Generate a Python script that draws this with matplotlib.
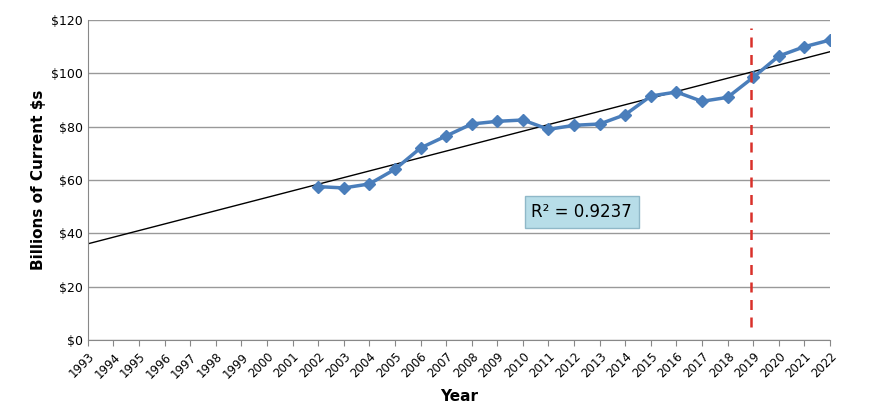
import matplotlib
matplotlib.use("Agg")
import matplotlib.pyplot as plt
import numpy as np

years = list(range(2002, 2023))
values = [57.5, 57, 58.5, 64, 72, 76.5, 81, 82, 82.5, 79, 80.5, 81, 84.5, 91.5, 93, 89.5, 91, 98.5, 106.5, 110, 112.5]
tick_years = list(range(1993, 2023))
y_ticks = [0, 20, 40, 60, 80, 100, 120]
r2_label = "R² = 0.9237"

fig = plt.figure(figsize=(8.7, 4.18), dpi=100)
ax = fig.add_axes([0.101, 0.187, 0.853, 0.765])

slope, icpt = np.polyfit(years, values, 1)
tx = np.array([1993, 2022])
ax.plot(tx, slope * tx + icpt, color="black", lw=1, zorder=2)
ax.plot(years, values, color="#4a7ebb", lw=2.5, marker="D", ms=6, mfc="#4a7ebb", zorder=3)
ax.plot([2018.9, 2018.9], [5, 117], color="#d9312a", lw=1.8, ls=(0, (4, 3)), zorder=4)

ax.set_xlim(1993, 2022)
ax.set_ylim(0, 120)
ax.set_yticks(y_ticks)
ax.set_yticklabels([f"${v}" for v in y_ticks], fontsize=9)
ax.set_xticks(tick_years)
ax.set_xticklabels([str(y) for y in tick_years], rotation=45, ha="right", rotation_mode="anchor", fontsize=8.5)
ax.grid(axis="y", color="#999999", lw=1)
ax.set_axisbelow(True)
for s in ["top", "right"]:
    ax.spines[s].set_visible(False)
ax.spines["left"].set_color("#888888")
ax.spines["bottom"].set_color("#888888")
ax.tick_params(axis="x", length=4, color="#888888")
ax.tick_params(axis="y", length=0)
ax.set_ylabel("Billions of Current $s", fontsize=11, fontweight="bold")
ax.set_xlabel("Year", fontsize=11, fontweight="bold", labelpad=6)

ax.text(2012.3, 48, r2_label, fontsize=12, ha="center", va="center",
        bbox=dict(boxstyle="square,pad=0.4", fc="#b7dde8", ec="#8fb8c8"), zorder=5)

fig.savefig("out.png", dpi=100)
